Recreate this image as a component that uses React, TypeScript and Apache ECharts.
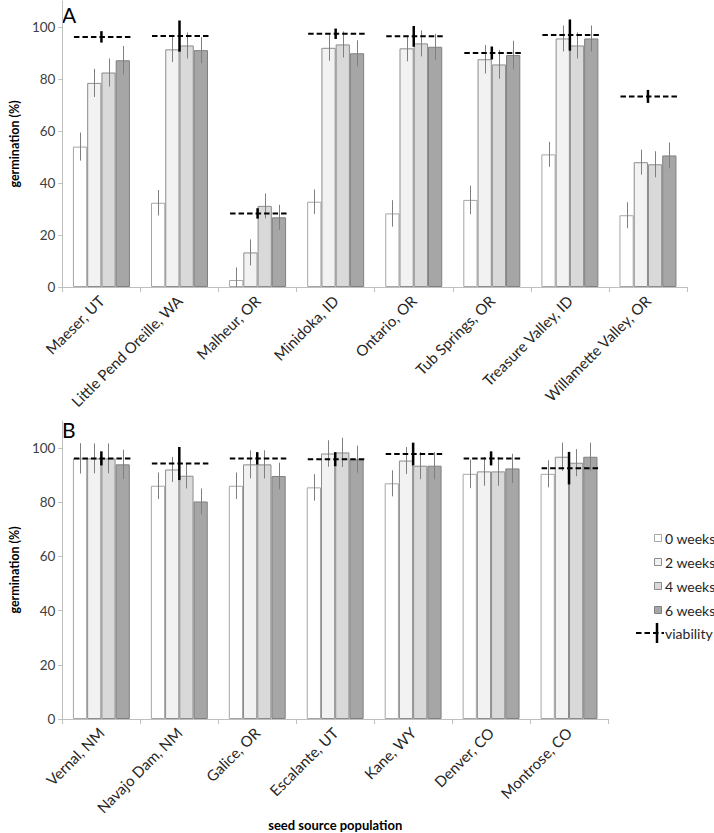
import React, { useEffect, useRef } from "react";
import * as echarts from "echarts";

const weekNames = ["0 weeks", "2 weeks", "4 weeks", "6 weeks"];
const viabilityName = "viability";

const catsA = [
  "Maeser, UT",
  "Little Pend Oreille, WA",
  "Malheur, OR",
  "Minidoka, ID",
  "Ontario, OR",
  "Tub Springs, OR",
  "Treasure Valley, ID",
  "Willamette Valley, OR",
];
const a0 = [54, 32.4, 2.7, 32.8, 28.3, 33.5, 51, 27.6];
const a2 = [78.5, 91.4, 13.3, 92, 91.8, 87.6, 95.6, 48];
const a4 = [82.5, 92.9, 31.2, 93.3, 93.7, 85.6, 92.9, 47.2];
const a6 = [87.2, 91.1, 26.8, 89.9, 92.4, 89.2, 95.6, 50.6];
const a0Err = [5.4, 4.9, 4.8, 4.7, 5.1, 5.5, 4.8, 5];
const a2Err = [5.4, 4.9, 5, 5, 5, 5.5, 5, 4.8];
const a4Err = [5.4, 5, 4.8, 5, 5, 5.5, 5, 5];
const a6Err = [5.5, 5, 4.8, 5, 5, 5.5, 5, 5];
const viaA = [96.2, 96.5, 28.3, 97.4, 96.4, 90, 96.9, 73.3];
const viaAErr = [2.2, 6, 2, 2, 4, 2.5, 6, 2.5];

const catsB = [
  "Vernal, NM",
  "Navajo Dam, NM",
  "Galice, OR",
  "Escalante, UT",
  "Kane, WY",
  "Denver, CO",
  "Montrose, CO",
];
const b0 = [96.2, 86.1, 86.1, 85.5, 87, 90.5, 90.5];
const b2 = [96.2, 92.1, 94, 98, 95.4, 91.4, 96.8];
const b4 = [96.2, 89.8, 94, 98.4, 93.5, 91.4, 94.6];
const b6 = [94, 80.3, 89.7, 95.9, 93.5, 92.5, 96.8];
const b0Err = [5.6, 4.9, 4.9, 4.9, 4.8, 5.3, 5];
const b2Err = [5.5, 4.6, 5.2, 4.9, 5, 5.3, 5.2];
const b4Err = [5.5, 4.7, 5.2, 5.4, 5, 5.3, 5];
const b6Err = [5.4, 4.8, 4.9, 5, 5, 5.4, 5.2];
const viaB = [96.2, 94.3, 96.2, 95.9, 97.8, 96.2, 92.6];
const viaBErr = [2.6, 6.1, 2.3, 2.6, 4.2, 2.6, 6];

const yTicks = [0, 20, 40, 60, 80, 100];

const FONT = "Lato";
const fills = ["#ffffff", "#f2f2f2", "#d9d9d9", "#a6a6a6"];
const borders = ["#a6a6a6", "#8c8c8c", "#8c8c8c", "#808080"];
const CAT_GAP = 0.27;
const DASH = [5.5, 3];

function barGeom(api: any, j: number) {
  const band = api.size([1, 0])[0];
  const bw = (band * (1 - CAT_GAP)) / 4;
  return { bw, off: -2 * bw + bw * (j + 0.5), total: bw * 4 };
}

function errSeries(vals: number[], errs: number[], j: number, axis: number) {
  return {
    type: "custom",
    xAxisIndex: axis,
    yAxisIndex: axis,
    z: 3,
    silent: true,
    clip: false,
    data: vals.map((v, i) => [i, v, errs[i]]),
    renderItem: (params: any, api: any) => {
      const x = api.value(0);
      const v = api.value(1);
      const e = api.value(2);
      const top = api.coord([x, v + e]);
      const bot = api.coord([x, Math.max(0, v - e)]);
      const { off } = barGeom(api, j);
      const cx = Math.round(top[0] + off) + 0.5;
      return {
        type: "line",
        shape: { x1: cx, y1: top[1], x2: cx, y2: bot[1] },
        style: { stroke: "#7f7f7f", lineWidth: 1 },
      };
    },
  };
}

function viaSeries(vals: number[], errs: number[], axis: number) {
  return {
    type: "custom",
    name: viabilityName,
    xAxisIndex: axis,
    yAxisIndex: axis,
    z: 4,
    silent: true,
    clip: false,
    data: vals.map((v, i) => [i, v, errs[i]]),
    renderItem: (params: any, api: any) => {
      const x = api.value(0);
      const v = api.value(1);
      const e = api.value(2);
      const c = api.coord([x, v]);
      const t = api.coord([x, v + e]);
      const b = api.coord([x, v - e]);
      const { total } = barGeom(api, 0);
      return {
        type: "group",
        children: [
          {
            type: "line",
            shape: { x1: c[0] - total / 2 + 1, y1: c[1], x2: c[0] + total / 2 + 2, y2: c[1] },
            style: { stroke: "#000", lineWidth: 2, lineDash: DASH },
          },
          {
            type: "line",
            shape: { x1: c[0], y1: t[1], x2: c[0], y2: b[1] },
            style: { stroke: "#000", lineWidth: 2.5 },
          },
        ],
      };
    },
  };
}

function barSeries(vals: number[], j: number, axis: number) {
  return {
    type: "bar",
    name: weekNames[j],
    xAxisIndex: axis,
    yAxisIndex: axis,
    barGap: "0%",
    barCategoryGap: CAT_GAP * 100 + "%",
    data: vals,
    itemStyle: { color: fills[j], borderColor: borders[j], borderWidth: 1 },
  };
}

function xAxis(cats: string[], grid: number, extra: any = {}) {
  return {
    type: "category",
    gridIndex: grid,
    data: cats,
    axisLine: { lineStyle: { color: "#bfbfbf", width: 1 } },
    axisTick: { show: true, length: 5, lineStyle: { color: "#bfbfbf" } },
    axisLabel: {
      interval: 0,
      rotate: 45,
      margin: 11,
      color: "#262626",
      fontFamily: FONT,
      fontSize: 15,
    },
    ...extra,
  };
}

function yAxis(grid: number) {
  return {
    type: "value",
    gridIndex: grid,
    min: 0,
    max: 110,
    interval: 20,
    name: "germination (%)",
    nameLocation: "middle",
    nameRotate: 90,
    nameGap: 38,
    nameTextStyle: { fontFamily: FONT, fontWeight: "bold", fontSize: 12.5, color: "#000" },
    splitLine: { show: false },
    axisLine: { show: true, lineStyle: { color: "#bfbfbf", width: 1 } },
    axisTick: { show: true, length: 4, customValues: yTicks, lineStyle: { color: "#bfbfbf" } },
    axisLabel: { customValues: yTicks, color: "#404040", fontFamily: FONT, fontSize: 13.5, margin: 7 },
  };
}

export default function App() {
  const ref = useRef<HTMLDivElement>(null);
  useEffect(() => {
    document.body.style.margin = "0";
    const chart = echarts.init(ref.current!, null, { renderer: "svg" });
    const legendGraphics: any[] = [];
    weekNames.forEach((n, i) => {
      const cy = 538 + 24 * i;
      legendGraphics.push({
        type: "rect",
        shape: { x: 654.5, y: cy - 3.5, width: 7, height: 7 },
        style: { fill: fills[i], stroke: borders[i], lineWidth: 1 },
      });
      legendGraphics.push({
        type: "text",
        x: 665,
        y: cy,
        style: { text: n, fill: "#262626", font: `14px ${FONT}`, textVerticalAlign: "middle" },
      });
    });
    const vy = 633;
    legendGraphics.push({
      type: "line",
      shape: { x1: 636, y1: vy, x2: 664, y2: vy },
      style: { stroke: "#000", lineWidth: 2, lineDash: DASH },
    });
    legendGraphics.push({
      type: "line",
      shape: { x1: 657, y1: vy - 10, x2: 657, y2: vy + 10 },
      style: { stroke: "#000", lineWidth: 2.5 },
    });
    legendGraphics.push({
      type: "text",
      x: 665,
      y: vy,
      style: { text: viabilityName, fill: "#262626", font: `14px ${FONT}`, textVerticalAlign: "middle" },
    });
    legendGraphics.push({
      type: "text",
      x: 62,
      y: 4,
      style: { text: "A", fill: "#000", font: `21px ${FONT}` },
    });
    legendGraphics.push({
      type: "text",
      x: 62,
      y: 419,
      style: { text: "B", fill: "#000", font: `21px ${FONT}` },
    });

    chart.setOption({
      animation: false,
      backgroundColor: "#ffffff",
      grid: [
        { left: 54, top: 1, width: 633, height: 286 },
        { left: 54, top: 421, width: 554, height: 298 },
      ],
      xAxis: [
        xAxis(catsA, 0),
        xAxis(catsB, 1, {
          name: "seed source population",
          nameLocation: "middle",
          nameGap: 99,
          nameTextStyle: { fontFamily: FONT, fontWeight: "bold", fontSize: 13, color: "#000" },
        }),
      ],
      yAxis: [yAxis(0), yAxis(1)],
      series: [
        barSeries(a0, 0, 0),
        barSeries(a2, 1, 0),
        barSeries(a4, 2, 0),
        barSeries(a6, 3, 0),
        errSeries(a0, a0Err, 0, 0),
        errSeries(a2, a2Err, 1, 0),
        errSeries(a4, a4Err, 2, 0),
        errSeries(a6, a6Err, 3, 0),
        viaSeries(viaA, viaAErr, 0),
        barSeries(b0, 0, 1),
        barSeries(b2, 1, 1),
        barSeries(b4, 2, 1),
        barSeries(b6, 3, 1),
        errSeries(b0, b0Err, 0, 1),
        errSeries(b2, b2Err, 1, 1),
        errSeries(b4, b4Err, 2, 1),
        errSeries(b6, b6Err, 3, 1),
        viaSeries(viaB, viaBErr, 1),
      ],
      graphic: legendGraphics,
    });
    return () => chart.dispose();
  }, []);
  return <div ref={ref} style={{ width: 714, height: 833 }} />;
}
